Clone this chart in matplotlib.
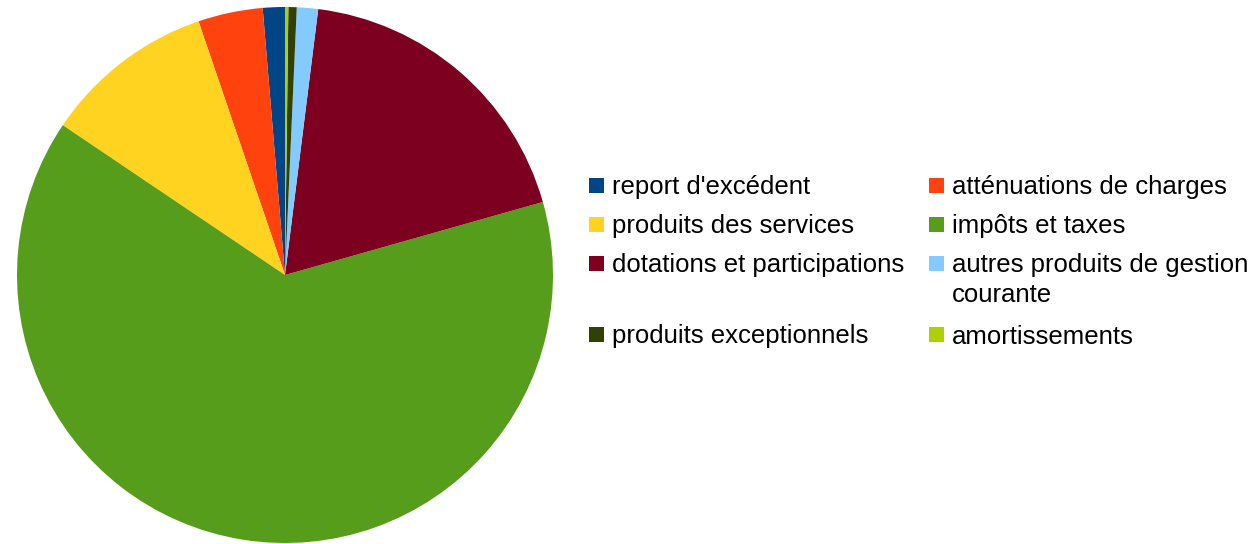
import matplotlib
matplotlib.use("Agg")
import matplotlib.pyplot as plt
from matplotlib.patches import Rectangle

labels = ["report d'excédent", "atténuations de charges", "produits des services",
          "impôts et taxes", "dotations et participations",
          "autres produits de gestion\ncourante", "produits exceptionnels", "amortissements"]
values = [1.33, 3.9, 10.33, 63.84, 18.63, 1.28, 0.5, 0.2]
colors = ["#004586", "#ff420e", "#ffd320", "#579d1c", "#7e0021", "#83caff", "#314004", "#aecf00"]

W, H = 1259, 544
fig = plt.figure(figsize=(W / 100, H / 100), dpi=100)
plt.rcParams['font.family'] = ['Liberation Sans', 'DejaVu Sans']

# pie axes: center (285, 275), radius 268 px
cx, cy, r = 285, 275, 268
ax = fig.add_axes([(cx - r) / W, (H - cy - r) / H, 2 * r / W, 2 * r / H])
ax.pie(values, colors=colors, startangle=90, counterclock=True,
       wedgeprops=dict(linewidth=0), radius=1)
ax.set_xlim(-1, 1)
ax.set_ylim(-1, 1)
ax.set_aspect('equal')
ax.axis('off')

# manual legend (row-wise, 2 columns); positions in pixels (y from top)
col_sq_x = [588.5, 928.5]
col_tx_x = [612, 952]
row_base0 = 194
row_gap = 39
line_gap = 30.5
extra_per_line = 32.5
sq = 15
sq_off = 8.7   # square center above baseline
fs = 18.5
base = row_base0
for i in range(0, len(labels), 2):
    nlines = 1
    for j in range(2):
        k = i + j
        if k >= len(labels):
            continue
        lines = labels[k].split("\n")
        nlines = max(nlines, len(lines))
        yc = base - sq_off
        fig.patches.append(Rectangle((col_sq_x[j] / W, (H - yc - sq / 2) / H),
                                     sq / W, sq / H, transform=fig.transFigure,
                                     facecolor=colors[k], edgecolor='none'))
        for li, line in enumerate(lines):
            fig.text(col_tx_x[j] / W, (H - base - li * line_gap) / H, line,
                     fontsize=fs, color='black', va='baseline', ha='left')
    base += row_gap + (nlines - 1) * extra_per_line

fig.savefig("out.png", dpi=100)
